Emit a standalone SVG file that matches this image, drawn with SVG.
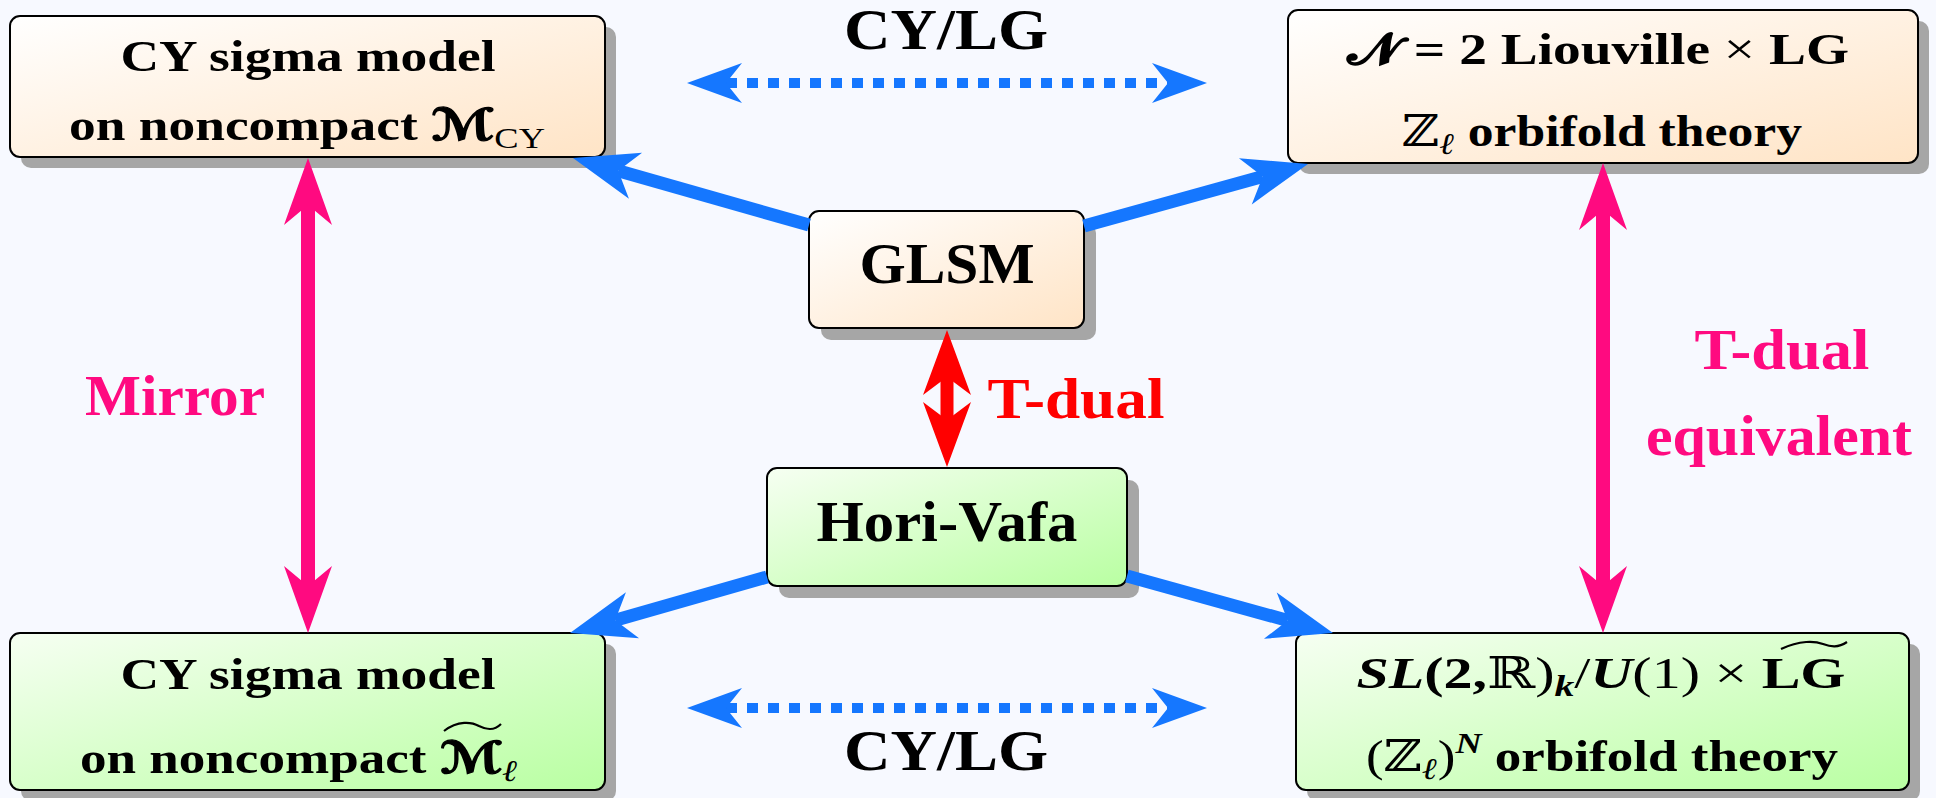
<svg xmlns="http://www.w3.org/2000/svg" width="1936" height="798" viewBox="0 0 1936 798">
<style>
.bg{fill:#F7F9FF}
.shadow{fill:#A6A6A6}
.box{stroke:#000;stroke-width:2}
.org{fill:url(#gOrange)}
.grn{fill:url(#gGreen)}
text{font-family:"Liberation Serif","DejaVu Serif",serif;font-weight:bold;fill:#000}
.t40{font-size:44px}
.t52{font-size:57px}
.n{font-weight:normal}
.it{font-style:italic}
.scr{font-family:"DejaVu Sans","DejaVu Serif",serif;font-weight:bold}
.scrM{font-family:"DejaVu Sans","DejaVu Serif",serif;font-weight:bold;stroke:#000;stroke-width:1.3}
.dbl{font-family:"DejaVu Serif","DejaVu Sans",serif;font-weight:normal}
.sub{font-size:30px}
.mag{fill:#FF0A80}
.red{fill:#FF0000}
.blueL{stroke:#1577FF;stroke-width:13;fill:none}
.magL{stroke:#FF0A80;stroke-width:14;fill:none}
.redL{stroke:#FF0000;stroke-width:13;fill:none}
.dotL{stroke:#1577FF;stroke-width:10;fill:none;stroke-dasharray:11 10}
.tilde{fill:none;stroke:#000;stroke-width:2.2}
</style>
<defs>
<linearGradient id="gOrange" x1="0" y1="0" x2="1" y2="1">
<stop offset="0" stop-color="#FFFFFF"/>
<stop offset="1" stop-color="#FFE4C6"/>
</linearGradient>
<linearGradient id="gGreen" x1="0" y1="0" x2="1" y2="1">
<stop offset="0" stop-color="#F6FFF2"/>
<stop offset="1" stop-color="#B9FFA2"/>
</linearGradient>
<marker id="hBlue" markerUnits="userSpaceOnUse" viewBox="0 -24 65 48" refX="18" refY="0" markerWidth="65" markerHeight="48" orient="auto-start-reverse" overflow="visible">
<path d="M0,-24 L65,0 L0,24 L18,0 Z" fill="#1577FF"/>
</marker>
<marker id="hMag" markerUnits="userSpaceOnUse" viewBox="0 -24 67 48" refX="20" refY="0" markerWidth="67" markerHeight="48" orient="auto-start-reverse" overflow="visible">
<path d="M0,-24 L67,0 L0,24 L20,0 Z" fill="#FF0A80"/>
</marker>
<marker id="hRed" markerUnits="userSpaceOnUse" viewBox="0 -24 65 48" refX="18" refY="0" markerWidth="65" markerHeight="48" orient="auto-start-reverse" overflow="visible">
<path d="M0,-24 L65,0 L0,24 L18,0 Z" fill="#FF0000"/>
</marker>
<marker id="hDot" markerUnits="userSpaceOnUse" viewBox="0 -20 55 40" refX="16" refY="0" markerWidth="55" markerHeight="40" orient="auto-start-reverse" overflow="visible">
<path d="M0,-20 L55,0 L0,20 L16,0 Z" fill="#1577FF"/>
</marker>
</defs>
<rect class="bg" x="0" y="0" width="1936" height="798"/>

<g id="node-cy-top">
<rect class="shadow" x="21" y="27" width="595" height="141" rx="10"/>
<rect class="box org" x="10" y="16" width="595" height="141" rx="10"/>
<text class="t40" x="308" y="71" text-anchor="middle" textLength="375" lengthAdjust="spacingAndGlyphs">CY sigma model</text>
<text class="t40" x="307" y="140" text-anchor="middle" textLength="476" lengthAdjust="spacingAndGlyphs">on noncompact <tspan class="scrM">ℳ</tspan><tspan class="sub n" dy="8">CY</tspan></text>
</g>

<g id="node-liouville">
<rect class="shadow" x="1299" y="21" width="630" height="153" rx="10"/>
<rect class="box org" x="1288" y="10" width="630" height="153" rx="10"/>
<text class="t40" x="1598" y="64" text-anchor="middle" textLength="502" lengthAdjust="spacingAndGlyphs"><tspan class="scr">𝓝</tspan>  = 2 Liouville <tspan class="n">×</tspan> LG</text>
<text class="t40" x="1602" y="146" text-anchor="middle" textLength="400" lengthAdjust="spacingAndGlyphs"><tspan class="dbl">ℤ</tspan><tspan class="sub it" dy="8">ℓ</tspan><tspan dy="-8"> orbifold theory</tspan></text>
</g>

<g id="node-glsm">
<rect class="shadow" x="821" y="223" width="275" height="117" rx="10"/>
<rect class="box org" x="809" y="211" width="275" height="117" rx="10"/>
<text class="t52" x="947" y="283" text-anchor="middle" textLength="175" lengthAdjust="spacingAndGlyphs">GLSM</text>
</g>

<g id="node-horivafa">
<rect class="shadow" x="779" y="480" width="360" height="118" rx="10"/>
<rect class="box grn" x="767" y="468" width="360" height="118" rx="10"/>
<text class="t52" x="947" y="541" text-anchor="middle" textLength="261" lengthAdjust="spacingAndGlyphs">Hori-Vafa</text>
</g>

<g id="node-cy-bottom">
<rect class="shadow" x="21" y="644" width="595" height="157" rx="10"/>
<rect class="box grn" x="10" y="633" width="595" height="157" rx="10"/>
<text class="t40" x="308" y="689" text-anchor="middle" textLength="375" lengthAdjust="spacingAndGlyphs">CY sigma model</text>
<text class="t40" x="299" y="773" text-anchor="middle" textLength="438" lengthAdjust="spacingAndGlyphs">on noncompact <tspan class="scrM">ℳ</tspan><tspan class="sub it" dy="8">ℓ</tspan></text>
<path class="tilde" d="M444,731 C458,720 472,722 479,726 C487,730 494,731 501,724"/>
</g>

<g id="node-sl2r">
<rect class="shadow" x="1307" y="644" width="613" height="157" rx="10"/>
<rect class="box grn" x="1296" y="633" width="613" height="157" rx="10"/>
<text class="t40" x="1601" y="688" text-anchor="middle" textLength="489" lengthAdjust="spacingAndGlyphs"><tspan class="it">SL</tspan>(2,<tspan class="dbl">ℝ</tspan><tspan class="n">)</tspan><tspan class="sub it" dy="8">k</tspan><tspan class="n" dy="-8">/</tspan><tspan class="it">U</tspan><tspan class="n">(1) × </tspan>LG</text>
<path class="tilde" d="M1781,649 C1800,640 1815,641 1823,644 C1831,647 1838,648 1847,642"/>
<text class="t40" x="1602" y="771" text-anchor="middle" textLength="472" lengthAdjust="spacingAndGlyphs"><tspan class="n">(</tspan><tspan class="dbl">ℤ</tspan><tspan class="sub it" dy="8">ℓ</tspan><tspan class="n" dy="-8">)</tspan><tspan class="sub it" dy="-18">N</tspan><tspan dy="18"> orbifold theory</tspan></text>
</g>

<g id="connectors">
<path class="blueL" d="M809,225 L618.2,170.8" marker-end="url(#hBlue)"/>
<path class="blueL" d="M1084,226 L1262.7,176.5" marker-end="url(#hBlue)"/>
<path class="blueL" d="M767,577 L615.2,620.2" marker-end="url(#hBlue)"/>
<path class="blueL" d="M1127,576 L1287.7,620.5" marker-end="url(#hBlue)"/>
<path class="dotL" d="M726,83 L1168,83" marker-start="url(#hDot)" marker-end="url(#hDot)"/>
<path class="dotL" d="M726,708 L1168,708" marker-start="url(#hDot)" marker-end="url(#hDot)"/>
<path class="magL" d="M308,205 L308,586" marker-start="url(#hMag)" marker-end="url(#hMag)"/>
<path class="magL" d="M1603,210 L1603,586" marker-start="url(#hMag)" marker-end="url(#hMag)"/>
<path class="redL" d="M947,377 L947,420" marker-start="url(#hRed)" marker-end="url(#hRed)"/>
</g>

<g id="labels">
<text class="t52" x="946" y="49" text-anchor="middle" textLength="204" lengthAdjust="spacingAndGlyphs">CY/LG</text>
<text class="t52" x="946" y="770" text-anchor="middle" textLength="204" lengthAdjust="spacingAndGlyphs">CY/LG</text>
<text class="t52 mag" x="175" y="415" text-anchor="middle" textLength="180" lengthAdjust="spacingAndGlyphs">Mirror</text>
<text class="t52 red" x="1076" y="418" text-anchor="middle" textLength="177" lengthAdjust="spacingAndGlyphs">T-dual</text>
<text class="t52 mag" x="1782" y="369" text-anchor="middle" textLength="175" lengthAdjust="spacingAndGlyphs">T-dual</text>
<text class="t52 mag" x="1779" y="455" text-anchor="middle" textLength="266" lengthAdjust="spacingAndGlyphs">equivalent</text>
</g>
</svg>
